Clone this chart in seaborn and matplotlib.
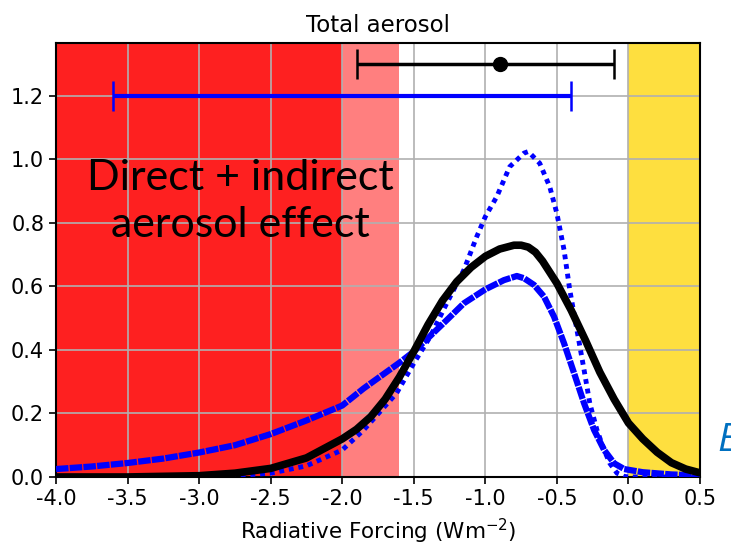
import numpy as np
import pandas as pd
import matplotlib
matplotlib.use("Agg")
import matplotlib.pyplot as plt
import seaborn as sns

# ---- curves ----
BLACK_X = [-4.0, -3.5, -3.0, -2.75, -2.5, -2.25, -2.0, -1.9, -1.8, -1.7, -1.6, -1.5,
           -1.4, -1.3, -1.2, -1.1, -1.0, -0.9, -0.8, -0.75, -0.7, -0.65, -0.6, -0.5,
           -0.4, -0.3, -0.2, -0.1, 0.0, 0.1, 0.2, 0.3, 0.4, 0.5]
BLACK_Y = [0.0, 0.0, 0.004, 0.012, 0.027, 0.06, 0.12, 0.15, 0.19, 0.245, 0.315, 0.395,
           0.48, 0.555, 0.615, 0.66, 0.695, 0.718, 0.73, 0.73, 0.724, 0.708, 0.68, 0.61,
           0.525, 0.43, 0.33, 0.245, 0.17, 0.12, 0.078, 0.045, 0.025, 0.013]

WIDE_X = [-4.0, -3.75, -3.5, -3.25, -3.0, -2.75, -2.5, -2.25, -2.0, -1.85, -1.6, -1.5,
          -1.39, -1.27, -1.15, -1.0, -0.87, -0.78, -0.73, -0.66, -0.59, -0.52, -0.45,
          -0.38, -0.31, -0.24, -0.17, -0.1, -0.03, 0.1, 0.3, 0.5]
WIDE_Y = [0.025, 0.033, 0.044, 0.058, 0.077, 0.10, 0.135, 0.178, 0.225, 0.279, 0.36, 0.395,
          0.442, 0.494, 0.547, 0.591, 0.62, 0.633, 0.626, 0.605, 0.568, 0.505, 0.421,
          0.327, 0.232, 0.148, 0.085, 0.043, 0.025, 0.015, 0.008, 0.005]

NARROW_X = [-4.0, -3.0, -2.75, -2.5, -2.25, -2.0, -1.85, -1.62, -1.5, -1.385, -1.27,
            -1.15, -1.06, -1.0, -0.92, -0.83, -0.73, -0.7, -0.62, -0.55, -0.5, -0.45,
            -0.41, -0.36, -0.31, -0.27, -0.22, -0.17, -0.13, -0.08, -0.03, 0.0, 0.5]
NARROW_Y = [0.0, 0.0, 0.004, 0.012, 0.035, 0.085, 0.148, 0.264, 0.358, 0.442, 0.547,
            0.652, 0.757, 0.82, 0.883, 0.977, 1.02, 1.025, 0.988, 0.914, 0.83, 0.715,
            0.589, 0.463, 0.337, 0.232, 0.148, 0.085, 0.043, 0.012, 0.002, 0.0, 0.0]

# ---- ranges shown at the top ----
BLACK_BAR = (-1.9, -0.9, -0.1)   # low, best, high
BLUE_BAR = (-3.6, -0.4)

# ---- shaded bands ----
BANDS = [(-4.0, -2.0, "#fe2020"), (-2.0, -1.6, "#ff7f7f"), (0.0, 0.5, "#fedf3f")]

sns.set_theme(style="ticks")
plt.rcParams["font.family"] = ["DejaVu Sans"]

fig = plt.figure(figsize=(7.31, 5.48), dpi=100)
ax = fig.add_axes([0.0766, 0.1296, 0.881, 0.792])

for lo, hi, col in BANDS:
    ax.axvspan(lo, hi, color=col, lw=0, zorder=0)

black = pd.DataFrame({"x": BLACK_X, "y": BLACK_Y})
wide = pd.DataFrame({"x": WIDE_X, "y": WIDE_Y})
narrow = pd.DataFrame({"x": NARROW_X, "y": NARROW_Y})

# wide histogram: dense squares, reads almost as a solid band
sns.lineplot(data=wide, x="x", y="y", ax=ax, color="#0000ff", lw=4.5,
             linestyle=(0, (2, 0.2)), zorder=3)
sns.lineplot(data=narrow, x="x", y="y", ax=ax, color="#0000ff", lw=3.5,
             linestyle=(0, (1, 1)), zorder=3)
sns.lineplot(data=black, x="x", y="y", ax=ax, color="black", lw=5.5, zorder=4)

lo, best, hi = BLACK_BAR
ax.errorbar([best], [1.30], xerr=[[best - lo], [hi - best]], fmt="o", color="black",
            ms=10, elinewidth=2.5, capsize=11, capthick=1.8, zorder=5)
blo, bhi = BLUE_BAR
bmid = (blo + bhi) / 2
ax.errorbar([bmid], [1.20], xerr=[[bmid - blo], [bhi - bmid]], fmt="none", color="#0000ff",
            elinewidth=3, capsize=11, capthick=1.8, zorder=5)

ax.set_xlim(-4.0, 0.5)
ax.set_ylim(0, 1.367)
ax.set_xticks(np.arange(-4.0, 0.51, 0.5))
ax.set_yticks(np.arange(0, 1.21, 0.2))
ax.xaxis.set_major_formatter(matplotlib.ticker.FormatStrFormatter("%.1f"))
ax.yaxis.set_major_formatter(matplotlib.ticker.FormatStrFormatter("%.1f"))
ax.set_axisbelow(True)
ax.grid(True, color="#b0b0b0", lw=1.2, zorder=1)
ax.tick_params(labelsize=15, length=5, width=1.2, color="black", labelcolor="black")
for s in ax.spines.values():
    s.set_color("black")
    s.set_linewidth(1.5)

ax.set_title("Total aerosol", fontsize=16.5, pad=8, color="black")
ax.set_xlabel("Radiative Forcing (Wm$^{-2}$)", fontsize=15.5, labelpad=6, color="black")
ax.set_ylabel("")

ax.text(-2.71, 0.868, "Direct + indirect\naerosol effect", fontsize=31, family="Lato",
        ha="center", va="center", linespacing=1.3, color="black", zorder=6)

# partial label that runs off the right edge in the reference
fig.text(0.982, 0.195, "E", fontsize=28, family="Open Sans", style="italic",
         color="#0070c0", ha="left", va="center")

fig.savefig("out.png", dpi=100)
